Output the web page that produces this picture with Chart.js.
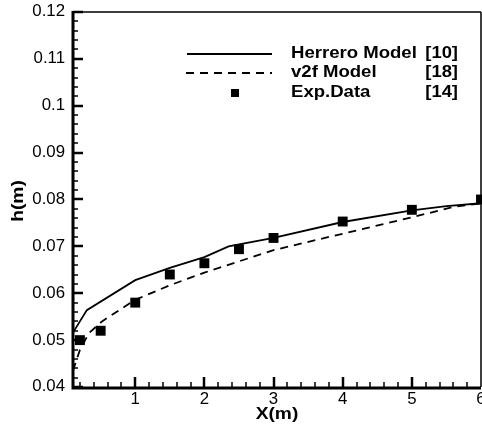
<html>
<head>
<script src="https://cdn.jsdelivr.net/npm/chart.js@4.4.1/dist/chart.umd.min.js"></script>
<style>
body { margin:0; background:#fff; }
</style>
</head>
<body>
<canvas id="chart" width="482" height="427"></canvas>
<script>
// Herrero model (solid)
var herreroX = [0.1, 0.3, 1.0, 1.5, 2.0, 2.35, 3.0, 4.0, 5.0, 5.5, 6.0];
var herreroY = [0.0516, 0.0564, 0.0628, 0.0654, 0.0677, 0.0700, 0.0718, 0.0752, 0.0777, 0.0786, 0.0792];
// v2f model (dashed)
var v2fX = [0.1, 0.2, 0.33, 0.52, 1.0, 1.5, 2.0, 3.0, 4.0, 5.0, 5.6, 6.0];
var v2fY = [0.0435, 0.0479, 0.0515, 0.0540, 0.0586, 0.0617, 0.0644, 0.0692, 0.0727, 0.0762, 0.0784, 0.0792];
// experimental points
var expX = [0.2, 0.5, 1, 1.5, 2, 2.5, 3, 4, 5, 6];
var expY = [0.0500, 0.0520, 0.0580, 0.0640, 0.0664, 0.0694, 0.0718, 0.0753, 0.0778, 0.0800];

var xTicks = [1, 2, 3, 4, 5, 6];
var yTicks = [0.04, 0.05, 0.06, 0.07, 0.08, 0.09, 0.1, 0.11, 0.12];
var yTickLabels = ["0.04", "0.05", "0.06", "0.07", "0.08", "0.09", "0.1", "0.11", "0.12"];

var legendRows = [
  { name: "Herrero Model", ref: "[10]" },
  { name: "v2f Model", ref: "[18]" },
  { name: "Exp.Data", ref: "[14]" }
];

function pts(xs, ys) {
  return xs.map(function(x, i) { return { x: x, y: ys[i] }; });
}

var FONT = '"Liberation Sans", Arial, sans-serif';

// text in the original is a bit wider than the font, stretch it horizontally
function stretchText(ctx, s, x, y, align, sx) {
  ctx.save();
  ctx.translate(x, y);
  ctx.scale(sx, 1);
  ctx.textAlign = align;
  ctx.fillText(s, 0, 0);
  ctx.restore();
}

var framePlugin = {
  id: 'frame',
  afterDraw: function(chart) {
    var ctx = chart.ctx, a = chart.chartArea;
    var xs = chart.scales.x, ys = chart.scales.y;
    ctx.save();
    ctx.strokeStyle = '#000';
    ctx.fillStyle = '#000';
    // frame
    ctx.lineWidth = 1.5;
    ctx.beginPath();
    ctx.moveTo(a.left, a.top); ctx.lineTo(a.right, a.top);
    ctx.moveTo(a.right, a.top); ctx.lineTo(a.right, a.bottom);
    ctx.stroke();
    ctx.lineWidth = 3;
    ctx.beginPath();
    ctx.moveTo(a.left, a.top - 1); ctx.lineTo(a.left, a.bottom + 1);
    ctx.lineTo(a.right, a.bottom + 1);
    ctx.stroke();

    // x ticks (inward)
    for (var i = 1; i < 30; i++) {
      var v = i * 0.2;
      if (v < xs.min || v > xs.max + 1e-9) continue;
      var px = Math.round(xs.getPixelForValue(v));
      var major = i % 5 === 0;
      ctx.lineWidth = major ? 2.5 : 1.5;
      ctx.beginPath();
      ctx.moveTo(px, a.bottom);
      ctx.lineTo(px, a.bottom - (major ? 10 : 5));
      ctx.stroke();
    }
    // y ticks (inward)
    for (var j = 0; j <= 40; j++) {
      var vy = 0.04 + j * 0.002;
      var py = Math.round(ys.getPixelForValue(vy));
      var maj = j % 5 === 0;
      ctx.lineWidth = maj ? 2.5 : 1.5;
      ctx.beginPath();
      ctx.moveTo(a.left, py);
      ctx.lineTo(a.left + (maj ? 10 : 5), py);
      ctx.stroke();
    }

    // tick labels
    ctx.font = '16px ' + FONT;
    ctx.textBaseline = 'middle';
    xTicks.forEach(function(t) {
      stretchText(ctx, String(t), xs.getPixelForValue(t), a.bottom + 13, 'center', 1.05);
    });
    yTicks.forEach(function(t, k) {
      stretchText(ctx, yTickLabels[k], a.left - 8, ys.getPixelForValue(t), 'right', 1.05);
    });

    // axis titles
    ctx.font = 'bold 16px ' + FONT;
    stretchText(ctx, 'X(m)', (a.left + a.right) / 2, 415, 'center', 1.2);
    ctx.save();
    ctx.translate(19, 201);
    ctx.rotate(-Math.PI / 2);
    stretchText(ctx, 'h(m)', 0, 0, 'center', 1.2);
    ctx.restore();

    // legend
    var rowY = [54, 73, 93];
    ctx.font = 'bold 16px ' + FONT;
    legendRows.forEach(function(r, k) {
      var y = rowY[k];
      stretchText(ctx, r.name, 291, y, 'left', 1.16);
      stretchText(ctx, r.ref, 458, y, 'right', 1.15);
    });
    ctx.lineWidth = 1.8;
    ctx.beginPath();
    ctx.moveTo(187, rowY[0]); ctx.lineTo(272, rowY[0]);
    ctx.stroke();
    ctx.setLineDash([8, 6]);
    ctx.beginPath();
    ctx.moveTo(186, rowY[1]); ctx.lineTo(272, rowY[1]);
    ctx.stroke();
    ctx.setLineDash([]);
    ctx.fillRect(231, rowY[2] - 4, 8, 8);
    ctx.restore();
  }
};

new Chart(document.getElementById('chart').getContext('2d'), {
  type: 'scatter',
  data: {
    datasets: [{
      label: 'Herrero Model [10]',
      data: pts(herreroX, herreroY),
      showLine: true,
      borderColor: '#000',
      borderWidth: 1.8,
      pointRadius: 0,
      tension: 0
    }, {
      label: 'v2f Model [18]',
      data: pts(v2fX, v2fY),
      showLine: true,
      borderColor: '#000',
      borderWidth: 1.8,
      borderDash: [8, 6],
      pointRadius: 0,
      tension: 0
    }, {
      label: 'Exp.Data [14]',
      data: pts(expX, expY),
      showLine: false,
      pointStyle: 'rect',
      pointRadius: 7,
      pointBorderWidth: 0,
      backgroundColor: '#000',
      borderColor: '#000',
      clip: false
    }]
  },
  options: {
    responsive: false,
    animation: false,
    layout: { autoPadding: false, padding: { left: 73, right: 1, top: 12, bottom: 40 } },
    plugins: { legend: { display: false }, tooltip: { enabled: false } },
    scales: {
      x: { type: 'linear', min: 0.1, max: 6, display: false },
      y: { type: 'linear', min: 0.04, max: 0.12, display: false }
    }
  },
  plugins: [framePlugin]
});
</script>
</body>
</html>
